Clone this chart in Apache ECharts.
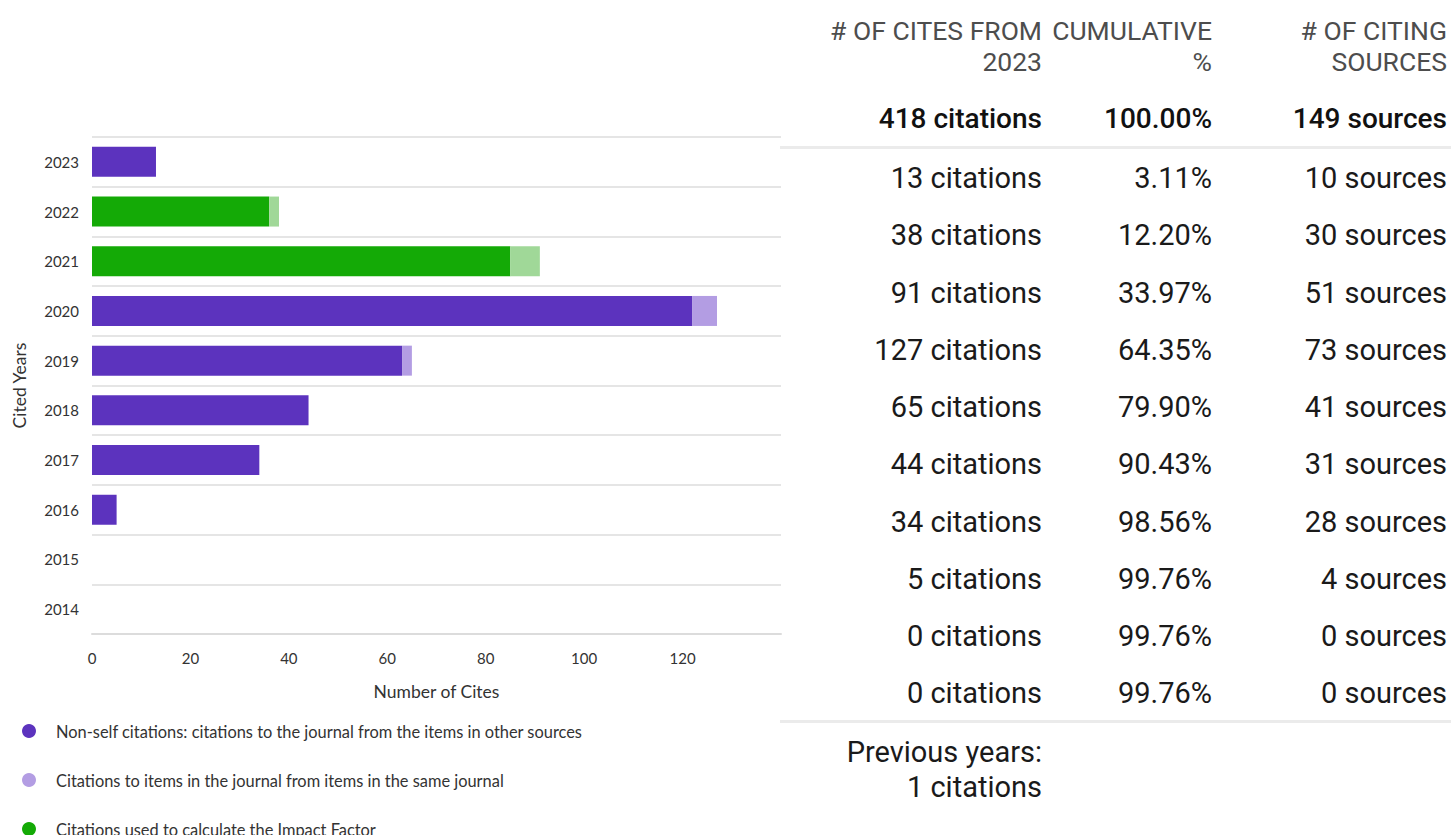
<!DOCTYPE html>
<html><head><meta charset="utf-8">
<script src="https://cdn.jsdelivr.net/npm/echarts@6/dist/echarts.min.js"></script>
<style>html,body{margin:0;padding:0;background:#fff}#c{width:1451px;height:835px}</style>
</head><body><div id="c"></div>
<script>
const years = ['2023','2022','2021','2020','2019','2018','2017','2016','2015','2014'];
const nonSelf   = [13, null, null, 122, 63, 44, 34, 5, 0, 0];
const selfCites = [0, null, null, 5, 2, 0, 0, 0, 0, 0];
const ifNonSelf = [null, 36, 85, null, null, null, null, null, null, null];
const ifSelf    = [null, 2, 6, null, null, null, null, null, null, null];
const xTicks = [0, 20, 40, 60, 80, 100, 120];

const legendNames = [
  'Non-self citations: citations to the journal from the items in other sources',
  'Citations to items in the journal from items in the same journal',
  'Citations used to calculate the Impact Factor'
];

const headers = ['# OF CITES FROM\n2023', 'CUMULATIVE\n%', '# OF CITING\nSOURCES'];
const totals = ['418 citations', '100.00%', '149 sources'];
const citesFrom = [13, 38, 91, 127, 65, 44, 34, 5, 0, 0];
const cumulative = ['3.11%', '12.20%', '33.97%', '64.35%', '79.90%', '90.43%', '98.56%', '99.76%', '99.76%', '99.76%'];
const citingSources = [10, 30, 51, 73, 41, 31, 28, 4, 0, 0];
const previousYears = 'Previous years:\n1 citations';

const colX = [1042, 1212, 1447];
const FONT = 'Roboto, "Noto Sans", sans-serif';
const CHARTFONT = 'Lato, "Noto Sans", sans-serif';

function txt(x, y, text, size, color, weight, lh) {
  return {
    type: 'text', x: x, y: y, silent: true,
    style: {
      text: text, fill: color, fontSize: size, fontFamily: FONT, fontWeight: weight || 'normal',
      align: 'right', textAlign: 'right', verticalAlign: 'middle', textVerticalAlign: 'middle',
      lineHeight: lh || size * 1.2
    }
  };
}

const graphics = [];
headers.forEach((h, i) => graphics.push(txt(colX[i], 45.5, h, 26.5, '#4d4d4d', 'normal', 31)));
totals.forEach((t, i) => graphics.push(txt(colX[i], 118, t, 28, '#111', 500)));
graphics.push({type: 'rect', silent: true, shape: {x: 780, y: 146, width: 671, height: 3}, style: {fill: '#ebebeb'}});
citesFrom.forEach((v, r) => {
  const y = 178 + r * 57.25;
  graphics.push(txt(colX[0], y, v + ' citations', 29, '#1a1a1a'));
  graphics.push(txt(colX[1], y, cumulative[r], 29, '#1a1a1a'));
  graphics.push(txt(colX[2], y, citingSources[r] + ' sources', 29, '#1a1a1a'));
});
graphics.push({type: 'rect', silent: true, shape: {x: 780, y: 720, width: 671, height: 3}, style: {fill: '#ebebeb'}});
graphics.push(txt(colX[0], 769.5, previousYears, 29, '#1a1a1a', 'normal', 35));

const PURPLE = '#5c33be', LPURPLE = '#b39de3', GREEN = '#14aa06', LGREEN = '#a0d898';

const chart = echarts.init(document.getElementById('c'), null, {renderer: 'svg'});
chart.setOption({
  animation: false,
  textStyle: {fontFamily: CHARTFONT},
  grid: {left: 92, right: 670, top: 137, bottom: 201, containLabel: false},
  xAxis: {
    type: 'value', min: 0, max: 140, interval: 20,
    name: 'Number of Cites', nameLocation: 'middle', nameGap: 48,
    nameTextStyle: {fontSize: 17.5, color: '#333', fontFamily: CHARTFONT},
    axisLine: {show: true, lineStyle: {color: '#dcdcdc', width: 2}},
    axisTick: {show: false},
    splitLine: {show: false},
    axisLabel: {fontSize: 15, color: '#333', margin: 16, fontFamily: CHARTFONT,
      formatter: v => xTicks.indexOf(v) >= 0 ? String(v) : ''}
  },
  yAxis: {
    type: 'category', data: years, inverse: true,
    name: 'Cited Years', nameLocation: 'middle', nameGap: 64, nameRotate: 90,
    nameTextStyle: {fontSize: 17.5, color: '#333', fontFamily: CHARTFONT},
    axisLine: {show: false}, axisTick: {show: false},
    splitLine: {show: true, lineStyle: {color: '#dcdcdc', width: 1.5}},
    axisLabel: {fontSize: 15, color: '#333', margin: 13, fontFamily: CHARTFONT}
  },
  legend: {
    orient: 'vertical', left: 17, top: 718, height: 200, itemWidth: 44, itemHeight: 14, itemGap: 33,
    icon: 'circle', selectedMode: false,
    data: legendNames,
    textStyle: {fontSize: 16.4, color: '#333', fontFamily: CHARTFONT}
  },
  series: [
    {name: legendNames[0], type: 'bar', stack: 'a', data: nonSelf, barWidth: 30, itemStyle: {color: PURPLE}},
    {name: legendNames[1], type: 'bar', stack: 'a', data: selfCites, barWidth: 30, itemStyle: {color: LPURPLE}},
    {name: legendNames[2], type: 'bar', stack: 'a', data: ifNonSelf, barWidth: 30, itemStyle: {color: GREEN}},
    {name: 'Impact Factor self citations', type: 'bar', stack: 'a', data: ifSelf, barWidth: 30, itemStyle: {color: LGREEN}}
  ],
  graphic: graphics
});
</script></body></html>
